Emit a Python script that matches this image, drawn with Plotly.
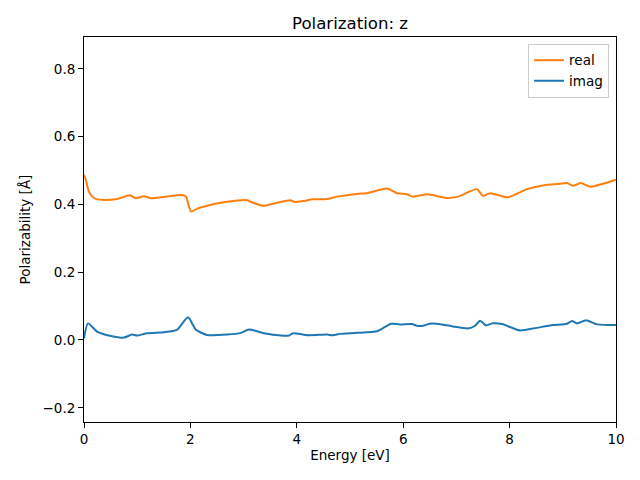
import plotly.graph_objects as go

energy_real = [0.0, 0.03, 0.094, 0.188, 0.376, 0.62, 0.865, 0.977, 1.128, 1.259, 1.504, 1.842, 1.917, 2.011, 2.124, 2.444, 2.688, 3.045, 3.195, 3.383, 3.553, 3.872, 3.966, 4.117, 4.305, 4.568, 4.756, 5.132, 5.338, 5.695, 5.883, 6.071, 6.184, 6.447, 6.823, 7.03, 7.387, 7.5, 7.632, 7.97, 8.327, 8.703, 8.891, 9.079, 9.192, 9.342, 9.511, 9.756, 10.0]
real = [0.487, 0.475, 0.437, 0.419, 0.413, 0.416, 0.427, 0.418, 0.424, 0.418, 0.422, 0.428, 0.423, 0.379, 0.387, 0.401, 0.408, 0.413, 0.404, 0.396, 0.402, 0.412, 0.407, 0.410, 0.415, 0.416, 0.423, 0.431, 0.434, 0.447, 0.433, 0.430, 0.423, 0.430, 0.419, 0.423, 0.445, 0.425, 0.433, 0.421, 0.445, 0.458, 0.460, 0.463, 0.455, 0.463, 0.452, 0.461, 0.473]

energy_imag = [0.0, 0.075, 0.244, 0.508, 0.752, 0.902, 0.996, 1.184, 1.504, 1.748, 1.955, 2.105, 2.312, 2.688, 2.951, 3.101, 3.383, 3.703, 3.853, 3.929, 4.211, 4.568, 4.681, 4.812, 5.132, 5.508, 5.62, 5.771, 5.94, 6.165, 6.259, 6.372, 6.504, 6.729, 6.936, 7.218, 7.35, 7.444, 7.556, 7.669, 7.857, 8.195, 8.477, 8.816, 9.079, 9.173, 9.267, 9.436, 9.643, 10.0]
imag = [0.005, 0.049, 0.025, 0.012, 0.007, 0.016, 0.013, 0.020, 0.023, 0.030, 0.067, 0.030, 0.015, 0.016, 0.021, 0.031, 0.020, 0.013, 0.013, 0.020, 0.014, 0.016, 0.014, 0.018, 0.021, 0.026, 0.035, 0.048, 0.046, 0.047, 0.042, 0.042, 0.048, 0.046, 0.040, 0.034, 0.042, 0.057, 0.043, 0.049, 0.047, 0.028, 0.035, 0.044, 0.048, 0.056, 0.049, 0.058, 0.046, 0.044]

x_ticks = [0, 2, 4, 6, 8, 10]
y_ticks = [-0.2, 0.0, 0.2, 0.4, 0.6, 0.8]

fig = go.Figure()
fig.add_trace(go.Scatter(x=energy_real, y=real, mode="lines", name="real",
                         line=dict(color="#ff7f0e", width=2, shape="spline", smoothing=0.6)))
fig.add_trace(go.Scatter(x=energy_imag, y=imag, mode="lines", name="imag",
                         line=dict(color="#1f77b4", width=2, shape="spline", smoothing=0.6)))

axis_common = dict(showline=True, linecolor="black", linewidth=1, mirror=True,
                   ticks="outside", ticklen=5, tickwidth=1, tickcolor="black",
                   showgrid=False, zeroline=False,
                   tickfont=dict(size=13.5, color="black"))

fig.update_layout(
    width=632, height=472,
    margin=dict(l=76, r=24, t=29, b=58),
    paper_bgcolor="white", plot_bgcolor="white",
    font=dict(family="DejaVu Sans", color="black", size=13.5),
    title=dict(text="Polarization: z", x=0.5, xref="paper", xanchor="center",
               y=0.968, yanchor="middle", font=dict(size=16.6)),
    xaxis=dict(range=[0, 10], tickvals=x_ticks, ticktext=[str(v) for v in x_ticks],
               title=dict(text="Energy [eV]", standoff=4, font=dict(size=13.5)), **axis_common),
    yaxis=dict(range=[-0.242, 0.894], tickvals=y_ticks,
               ticktext=[f"{v:.1f}".replace("-", "\u2212") for v in y_ticks],
               title=dict(text="Polarizability [Å]", standoff=8, font=dict(size=13.5)), **axis_common),
    legend=dict(x=0.987, y=0.982, xanchor="right", yanchor="top",
                bordercolor="#cccccc", borderwidth=1, bgcolor="white",
                font=dict(size=13.5)),
    showlegend=True,
)

fig.write_html("out.html")
